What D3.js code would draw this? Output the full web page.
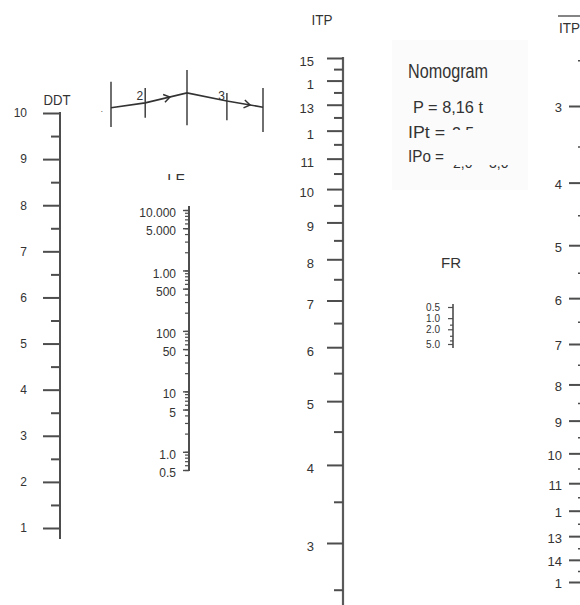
<!DOCTYPE html>
<html>
<head>
<meta charset="utf-8">
<script src="https://cdn.jsdelivr.net/npm/d3@7"></script>
<style>
  html, body { margin: 0; padding: 0; background: #fff; }
  svg { display: block; }
  text { font-family: "Liberation Sans Narrow", "Arial Narrow", "Liberation Sans", sans-serif; fill: #333; }
</style>
</head>
<body>
<svg id="chart" width="580" height="605"></svg>
<script>
// ---------- data ----------
const ddtTicks = [1, 2, 3, 4, 5, 6, 7, 8, 9, 10];
const ddtMinor = [1.5, 2.5, 3.5, 4.5, 5.5, 6.5, 7.5, 8.5, 9.5];

const lfTicks = [10000, 5000, 1000, 500, 100, 50, 10, 5, 1, 0.5];
const lfLabels = ["10.000", "5.000", "1.00", "500", "100", "50", "10", "5", "1.0", "0.5"];

const itpTicks = [15, 14, 13, 12, 11, 10, 9, 8, 7, 6, 5, 4, 3];
const itpLabels = ["15", "1", "13", "1", "11", "10", "9", "8", "7", "6", "5", "4", "3"];
const itpMinor = [14.5, 13.5, 12.5, 11.5, 10.5, 9.5, 8.5, 7.5, 6.5, 5.5, 4.5, 3.5, 2.5];

const itpBarTicks = [3, 4, 5, 6, 7, 8, 9, 10, 11, 12, 13, 14, 15];
const itpBarLabels = ["3", "4", "5", "6", "7", "8", "9", "10", "11", "1", "13", "14", "1"];
const itpBarMinor = [2.5, 3.5, 4.5, 5.5, 6.5, 7.5, 8.5, 9.5, 10.5, 11.5, 12.5, 13.5, 14.5];

const frTicks = [0.5, 1, 2, 5];
const frLabels = ["0.5", "1.0", "2.0", "5.0"];
const frMinor = [1.5, 3, 4];

// guide sketch (schematic units)
const guideStations = [0, 0.9, 2.0, 3.05, 4.0];
const guideTop = [81, 71, 100, 63, 71];
const guideBottom = [8, 23, 11, 19, 0];
const guidePath = [39, 47, 63, 50, 40];
const guideArrows = [1.55, 3.66];
const guideLabels = [{u: 0.9, t: "2"}, {u: 3.05, t: "3"}];

const infoTitle = "Nomogram";
const infoLines = ["P  =  8,16 t", "IPt  =", "IPo ="];
const infoValues = ["2,5", "2,0", "3,0"];

// ---------- drawing ----------
const svg = d3.select("#chart");
const lineCol = "#4d4d4d";
const panelCol = "#fbfbfb";

// faint panel behind the info text
svg.append("rect").attr("x", 392).attr("y", 40).attr("width", 136).attr("height", 150).attr("fill", panelCol);

function styleAxis(g, fontSize) {
  g.select(".domain").remove();
  g.selectAll(".tick line").attr("stroke", lineCol).attr("stroke-width", 2);
  g.selectAll(".tick text").attr("font-size", fontSize).attr("fill", "#333")
    .style("font-family", '"Liberation Sans Narrow", "Arial Narrow", "Liberation Sans", sans-serif');
}

// DDT (linear)
const ddt = d3.scaleLinear().domain([1, 10]).range([528, 113]);
svg.append("line").attr("x1", 60).attr("x2", 60).attr("y1", ddt(10) - 1).attr("y2", ddt(0.76))
  .attr("stroke", lineCol).attr("stroke-width", 2);
svg.append("g").attr("transform", "translate(60,0)")
  .call(d3.axisLeft(ddt).tickValues(ddtTicks).tickSize(17).tickPadding(16).tickFormat(d3.format("d")))
  .call(g => styleAxis(g, 12));
svg.append("g").attr("transform", "translate(60,0)")
  .call(d3.axisLeft(ddt).tickValues(ddtMinor).tickSize(9).tickFormat(""))
  .call(g => styleAxis(g, 12));
svg.append("text").attr("x", 57).attr("y", 105).attr("text-anchor", "middle").attr("font-size", 14)
  .attr("textLength", 27).attr("lengthAdjust", "spacingAndGlyphs").text("DDT");

// guide sketch
const gx = d3.scaleLinear().domain([0, 4]).range([111, 263]);
const gy = d3.scaleLinear().domain([0, 100]).range([132, 70]);
const gSketch = svg.append("g");
gSketch.selectAll("line.st").data(guideStations).join("line")
  .attr("x1", d => gx(d)).attr("x2", d => gx(d))
  .attr("y1", (d, i) => gy(guideTop[i])).attr("y2", (d, i) => gy(guideBottom[i]))
  .attr("stroke", "#333").attr("stroke-width", 1.4);
const pathPts = guideStations.map((u, i) => [gx(u), gy(guidePath[i])]);
gSketch.append("path").attr("d", d3.line()(pathPts)).attr("fill", "none").attr("stroke", "#333").attr("stroke-width", 1.6);
function pathYAt(u) {
  const xs = gx(u);
  for (let i = 0; i < pathPts.length - 1; i++) {
    if (xs >= pathPts[i][0] && xs <= pathPts[i + 1][0]) {
      const t = (xs - pathPts[i][0]) / (pathPts[i + 1][0] - pathPts[i][0]);
      const ang = Math.atan2(pathPts[i + 1][1] - pathPts[i][1], pathPts[i + 1][0] - pathPts[i][0]) * 180 / Math.PI;
      return [xs, pathPts[i][1] + t * (pathPts[i + 1][1] - pathPts[i][1]), ang];
    }
  }
  return [xs, 0, 0];
}
gSketch.selectAll("path.arr").data(guideArrows).join("path")
  .attr("d", "M-6,-4L0,0L-6,4")
  .attr("transform", d => { const p = pathYAt(d); return `translate(${p[0]},${p[1]}) rotate(${p[2]})`; })
  .attr("fill", "none").attr("stroke", "#333").attr("stroke-width", 1.5);
gSketch.selectAll("text.gl").data(guideLabels).join("text")
  .attr("x", d => gx(d.u) - 2).attr("y", 100).attr("text-anchor", "end").attr("font-size", 12).text(d => d.t);
gSketch.append("text").attr("x", gx(0) - 10).attr("y", 112).attr("font-size", 6).attr("font-weight", "bold").text(".");

// LF (log)
const lf = d3.scaleLog().domain([10000, 0.5]).range([210, 470]);
svg.append("line").attr("x1", 189).attr("x2", 189).attr("y1", lf(10000) - 4).attr("y2", lf(0.5) + 1)
  .attr("stroke", lineCol).attr("stroke-width", 2);
const lfMinor = [];
[0.1, 1, 10, 100, 1000].forEach(b => { for (let k = 1; k <= 9; k++) { const v = b * k; if (v >= 0.5 && v <= 10000) lfMinor.push(v); } });
lfMinor.push(10000);
svg.append("g").attr("transform", "translate(189,0)")
  .call(d3.axisLeft(lf).tickValues(lfMinor).tickSize(4).tickFormat(""))
  .call(g => { styleAxis(g, 11); g.selectAll(".tick line").attr("stroke-width", 1.2); });
svg.append("g").attr("transform", "translate(189,0)")
  .call(d3.axisLeft(lf).tickValues(lfTicks).tickSize(6).tickPadding(7).tickFormat((d, i) => lfLabels[i]))
  .call(g => { styleAxis(g, 12); g.selectAll(".tick line").attr("stroke-width", 1.4); g.selectAll(".tick text").attr("dy", "0.55em"); });
svg.append("text").attr("x", 176).attr("y", 184).attr("text-anchor", "middle").attr("font-size", 15).text("LF");
svg.append("rect").attr("x", 160).attr("y", 180).attr("width", 40).attr("height", 8).attr("fill", "#fff");

// ITP (middle)
const itp = d3.scaleLog().domain([16, 4]).range([58, 543]);
svg.append("line").attr("x1", 343).attr("x2", 343).attr("y1", itp(16) - 1).attr("y2", 605)
  .attr("stroke", "#5a5a5a").attr("stroke-width", 2.2);
svg.append("g").attr("transform", "translate(343,0)")
  .call(d3.axisLeft(itp).tickValues(itpTicks.map(v => v + 1)).tickSize(16).tickPadding(13).tickFormat((d, i) => itpLabels[i]))
  .call(g => { styleAxis(g, 13); g.selectAll(".tick text").attr("dy", "0.6em"); });
svg.append("g").attr("transform", "translate(343,0)")
  .call(d3.axisLeft(itp).tickValues(itpMinor.map(v => v + 1)).tickSize(9).tickFormat(""))
  .call(g => styleAxis(g, 13));
svg.append("text").attr("x", 322).attr("y", 25).attr("text-anchor", "middle").attr("font-size", 14)
  .attr("textLength", 21).attr("lengthAdjust", "spacingAndGlyphs").text("ITP");

// Info text
svg.append("text").attr("x", 408).attr("y", 78).attr("font-size", 20)
  .attr("textLength", 80).attr("lengthAdjust", "spacingAndGlyphs").text(infoTitle);
svg.append("text").attr("x", 413).attr("y", 113).attr("font-size", 16)
  .attr("textLength", 70).attr("lengthAdjust", "spacingAndGlyphs").text(infoLines[0]);
svg.append("text").attr("x", 408).attr("y", 138).attr("font-size", 16)
  .attr("textLength", 37).attr("lengthAdjust", "spacingAndGlyphs").text(infoLines[1]);
svg.append("text").attr("x", 408).attr("y", 162).attr("font-size", 16)
  .attr("textLength", 36).attr("lengthAdjust", "spacingAndGlyphs").text(infoLines[2]);
svg.append("text").attr("x", 452).attr("y", 139).attr("font-size", 16).text(infoValues[0]);
svg.append("text").attr("x", 453).attr("y", 168).attr("font-size", 14).text(infoValues[1]);
svg.append("text").attr("x", 489).attr("y", 168).attr("font-size", 14).text(infoValues[2]);
svg.append("rect").attr("x", 447).attr("y", 130).attr("width", 78).attr("height", 35).attr("fill", panelCol);

// FR (log)
const fr = d3.scaleLog().domain([0.5, 5]).range([307, 344]);
svg.append("line").attr("x1", 453).attr("x2", 453).attr("y1", fr(0.5) - 3).attr("y2", fr(5) + 4)
  .attr("stroke", lineCol).attr("stroke-width", 1.6);
svg.append("g").attr("transform", "translate(453,0)")
  .call(d3.axisLeft(fr).tickValues(frTicks).tickSize(5).tickPadding(8).tickFormat((d, i) => frLabels[i]))
  .call(g => { styleAxis(g, 10); g.selectAll(".tick line").attr("stroke-width", 1.2); });
svg.append("g").attr("transform", "translate(453,0)")
  .call(d3.axisLeft(fr).tickValues(frMinor).tickSize(3).tickFormat(""))
  .call(g => { styleAxis(g, 10); g.selectAll(".tick line").attr("stroke-width", 1.2); });
svg.append("text").attr("x", 451).attr("y", 268).attr("text-anchor", "middle").attr("font-size", 15).text("FR");

// ITP bar (right)
const itpBar = d3.scaleLog().domain([4, 16]).range([106, 582]);
svg.append("line").attr("x1", 583).attr("x2", 583).attr("y1", 40).attr("y2", 605)
  .attr("stroke", lineCol).attr("stroke-width", 2);
svg.append("g").attr("transform", "translate(583,0)")
  .call(d3.axisLeft(itpBar).tickValues(itpBarTicks.map(v => v + 1)).tickSize(14).tickPadding(7).tickFormat((d, i) => itpBarLabels[i]))
  .call(g => { styleAxis(g, 13); g.selectAll(".tick text").attr("dy", "0.45em"); });
svg.append("g").attr("transform", "translate(583,0)")
  .call(d3.axisLeft(itpBar).tickValues(itpBarMinor.map(v => v + 1)).tickSize(5).tickFormat(""))
  .call(g => { styleAxis(g, 13); g.selectAll(".tick line").attr("stroke-width", 1.5); });
svg.append("text").attr("x", 559).attr("y", 33).attr("font-size", 14)
  .attr("textLength", 21).attr("lengthAdjust", "spacingAndGlyphs").text("ITP");
svg.append("line").attr("x1", 558).attr("x2", 580).attr("y1", 16).attr("y2", 16).attr("stroke", "#333").attr("stroke-width", 1.2);
</script>
</body>
</html>
